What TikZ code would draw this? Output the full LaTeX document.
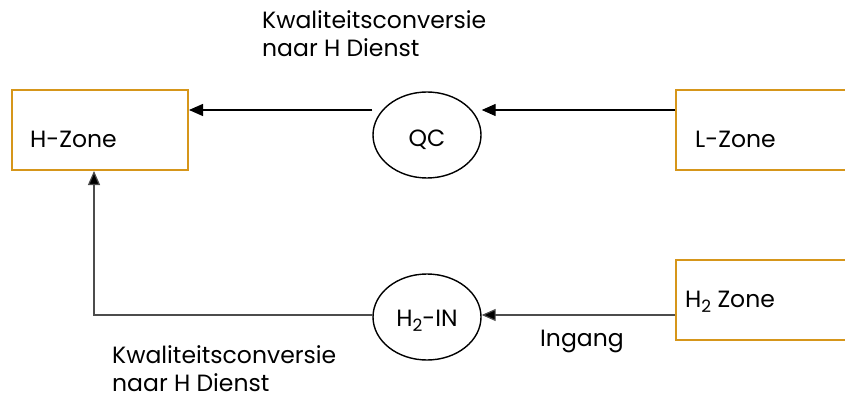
\documentclass[tikz,border=0pt]{standalone}
\usepackage{fontspec}
\setmainfont{Poppins}
\usetikzlibrary{shapes.geometric,arrows.meta,calc}
\definecolor{zoneorange}{RGB}{214,150,26}
\newcommand{\subtwo}{\raisebox{-0.2em}{\fontsize{17}{17}\selectfont 2}}
\begin{document}
\begin{tikzpicture}[x=1pt,y=-1pt,
  zone/.style={draw=zoneorange,line width=2pt,minimum width=176pt,minimum height=80pt,inner sep=0pt},
  proc/.style={draw,ellipse,line width=1.4pt,minimum width=108pt,minimum height=86pt,inner sep=0pt},
  lbl/.style={font=\fontsize{23.5}{28}\selectfont,inner sep=0pt,align=left},
  arr/.style={line width=1.4pt,-{Triangle[length=14pt,width=12pt]}},
  garr/.style={draw=black!70,line width=1.2pt,-{Triangle[length=14pt,width=12pt,fill=black]}}
]
\useasboundingbox (0,0) rectangle (845,398);
\clip (0,0) rectangle (845,398);
% boxes
\node[zone] (hz) at (100,130) {};
\node[zone] (lz) at (764,130) {};
\node[zone] (h2z) at (764,300) {};
\node[lbl,anchor=west] (hzt) at (30,139) {H-Zone};
\node[lbl,anchor=west] (lzt) at (695,139) {L-Zone};
\node[lbl,anchor=west] (h2zt) at (685,302) {H\subtwo{} Zone};
% ellipses
\node[proc] (qc) at (427,135) {};
\node[lbl] (qct) at (427,140) {QC};
\node[proc] (h2in) at (427,317) {};
\node[lbl] (h2int) at (427,321) {H\subtwo-IN};
% labels
\node[lbl,anchor=north west] (top) at (262,10) {Kwaliteitsconversie\\naar H Dienst};
\node[lbl,anchor=north west] (bot) at (112,345) {Kwaliteitsconversie\\naar H Dienst};
\node[lbl,anchor=west] (ing) at (540,341) {Ingang};
% connectors
\coordinate (ytop) at (0,110);
\coordinate (ybot) at (0,315);
\draw[arr] (lz.west |- ytop) -- (qc.east |- ytop);
\draw[arr] (qc.west |- ytop) -- (hz.east |- ytop);
\draw[garr] (h2z.west |- ybot) -- (h2in.east |- ybot);
\draw[garr] (h2in.west |- ybot) -| ($(hz.south)+(-6,0)$);
\end{tikzpicture}
\end{document}
